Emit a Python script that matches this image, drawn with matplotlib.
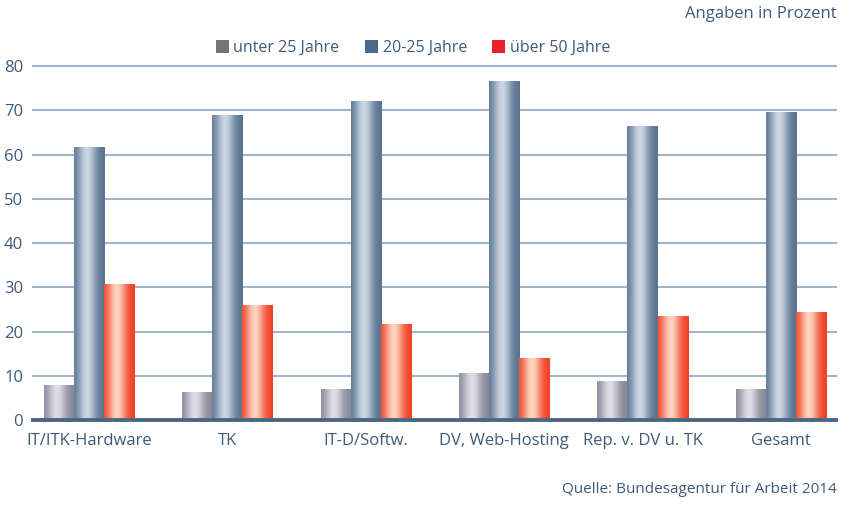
import matplotlib
matplotlib.use('Agg')
import matplotlib.pyplot as plt
import numpy as np
from matplotlib.colors import to_rgb
from matplotlib.patches import Patch

categories = ['IT/ITK-Hardware', 'TK', 'IT-D/Softw.', 'DV, Web-Hosting', 'Rep. v. DV u. TK', 'Gesamt']
series_names = ['unter 25 Jahre', '20-25 Jahre', 'über 50 Jahre']
unter25 = [7.7, 6.3, 7.0, 10.6, 8.8, 7.0]
j20_25 = [61.5, 68.7, 71.9, 76.6, 66.4, 69.4]
ueber50 = [30.7, 25.8, 21.5, 13.8, 23.3, 24.4]

plt.rcParams['font.family'] = ['Liberation Sans Narrow', 'Open Sans', 'DejaVu Sans']
text_col = '#3f5a7a'

# edge colour, highlight colour, legend colour
styles = [('#858597', '#dedde6', '#72737f'),
          ('#56718f', '#cbd6e3', '#4a6a8a'),
          ('#f03f22', '#fed4c0', '#e8202a')]

fig = plt.figure(figsize=(8.43, 5.05), dpi=100)
ax = fig.add_axes([0.039, 0.168, 0.953, 0.701])

for v in range(10, 90, 10):
    ax.axhline(v, color='#a3b5cb', lw=1.5, zorder=1, clip_on=False)

t = np.linspace(0, 1, 60)
prof = np.exp(-((t - 0.42) / 0.3) ** 2)

w = 0.217
x = np.arange(len(categories))
for i, vals in enumerate([unter25, j20_25, ueber50]):
    c0 = np.array(to_rgb(styles[i][0]))
    c1 = np.array(to_rgb(styles[i][1]))
    grad = c0[None, :] * (1 - prof[:, None]) + c1[None, :] * prof[:, None]
    grad = grad[None, :, :]
    for xi, v in zip(x, vals):
        left = xi + (i - 1.5) * w
        ax.imshow(grad, extent=[left, left + w, 0, v], aspect='auto',
                  interpolation='bilinear', zorder=2)

ax.axhline(0, color='#4d6783', lw=2.8, zorder=3, clip_on=False)

ax.set_xlim(-0.405, 5.40)
ax.set_ylim(0, 80)
ax.set_xticks(x)
ax.set_xticklabels(categories, fontsize=12, color=text_col)
ax.set_yticks(range(0, 90, 10))
ax.set_yticklabels([str(v) for v in range(0, 90, 10)], fontsize=12, color=text_col)
ax.tick_params(length=0)
ax.tick_params(axis='x', pad=9)
ax.tick_params(axis='y', pad=7)
for s in ax.spines.values():
    s.set_visible(False)

handles = [Patch(facecolor=s[2], edgecolor='none') for s in styles]
fig.legend(handles, series_names, loc='center', bbox_to_anchor=(0.49, 0.905), ncol=3,
           frameon=False, fontsize=11.5, labelcolor=text_col, handlelength=0.8,
           handleheight=0.8, handletextpad=0.3, columnspacing=1.6)

fig.text(0.992, 0.972, 'Angaben in Prozent', ha='right', va='center', fontsize=12, color=text_col)
fig.text(0.992, 0.03, 'Quelle: Bundesagentur für Arbeit 2014', ha='right', va='center',
         fontsize=11, color=text_col)

fig.savefig('out.png', dpi=100)
